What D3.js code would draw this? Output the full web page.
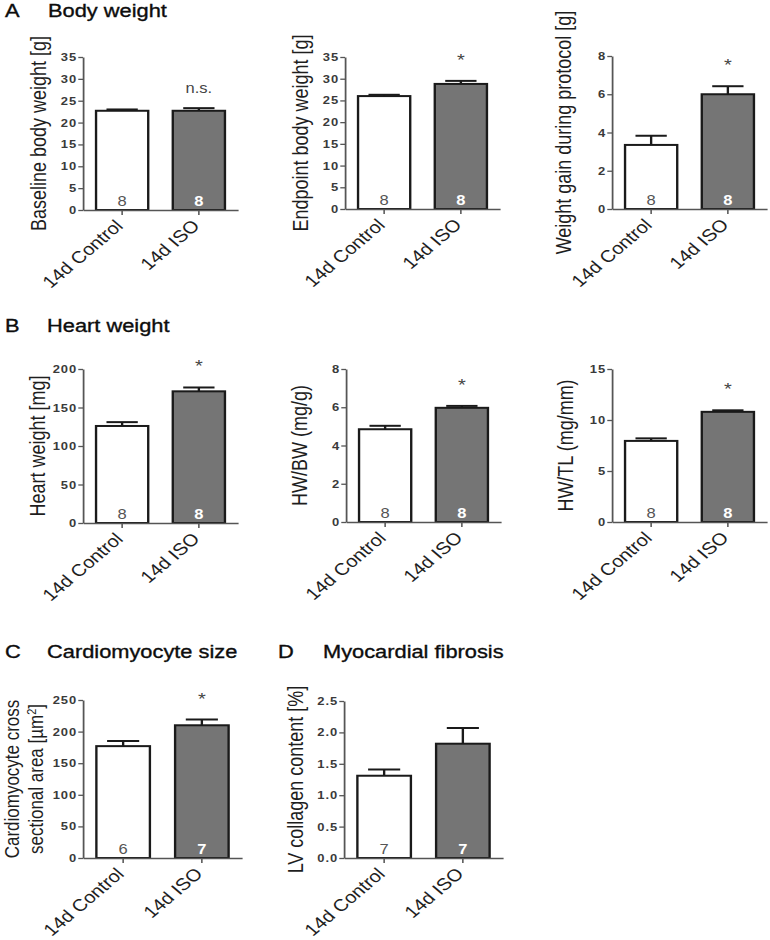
<!DOCTYPE html>
<html><head><meta charset="utf-8">
<script src="https://cdn.jsdelivr.net/npm/d3@7"></script>
<style>
body{margin:0;background:#fff}
text{font-family:"Liberation Sans",Arial,Helvetica,sans-serif}
</style>
</head><body>
<svg id="c" width="770" height="940"></svg>
<script>
// ---------- data ----------
const groups = ["14d Control", "14d ISO"];

const baselineMean = [22.7, 22.7], baselineSem = [0.3, 0.6], baselineN = [8, 8];
const endpointMean = [26.0, 28.8], endpointSem = [0.3, 0.7], endpointN = [8, 8];
const gainMean = [3.35, 6.0], gainSem = [0.48, 0.42], gainN = [8, 8];
const heartMean = [126, 171], heartSem = [5, 5], heartN = [8, 8];
const hwbwMean = [4.85, 5.97], hwbwSem = [0.18, 0.1], hwbwN = [8, 8];
const hwtlMean = [7.95, 10.8], hwtlSem = [0.25, 0.15], hwtlN = [8, 8];
const csaMean = [177, 210], csaSem = [8, 9], csaN = [6, 7];
const collagenMean = [1.31, 1.82], collagenSem = [0.1, 0.25], collagenN = [7, 7];

const baselineTicks = [0, 5, 10, 15, 20, 25, 30, 35];
const endpointTicks = [0, 5, 10, 15, 20, 25, 30, 35];
const gainTicks = [0, 2, 4, 6, 8];
const heartTicks = [0, 50, 100, 150, 200];
const hwbwTicks = [0, 2, 4, 6, 8];
const hwtlTicks = [0, 5, 10, 15];
const csaTicks = [0, 50, 100, 150, 200, 250];
const collagenTicks = [0, 0.5, 1.0, 1.5, 2.0, 2.5];

const significance = ["n.s.", "*", "*", "*", "*", "*", "*", ""];
const sectionLetters = ["A", "B", "C", "D"];
const sectionTitles = ["Body weight", "Heart weight", "Cardiomyocyte size", "Myocardial fibrosis"];

// ---------- drawing ----------
const SX = 1.18;               // horizontal stretch of the original figure
const svg = d3.select("#c");
const root = svg.append("g").attr("transform", `scale(${SX},1)`);
const X = v => v / SX;

function title(letter, text, lx, tx, y) {
  [[letter, lx], [text, tx]].forEach(([s, px]) => {
    root.append("text").attr("x", X(px)).attr("y", y).attr("font-size", 18.5)
      .attr("fill", "#0d0d0d").attr("stroke", "#0d0d0d").attr("stroke-width", 0.35).text(s);
  });
}
title(sectionLetters[0], sectionTitles[0], 5, 48, 17);
title(sectionLetters[1], sectionTitles[1], 5, 47, 332);
title(sectionLetters[2], sectionTitles[2], 5, 47, 658);
title(sectionLetters[3], sectionTitles[3], 278, 323, 658);

function panel(o) {
  const x = d3.scaleBand().domain(groups).range([X(o.axisX), X(o.xEnd)])
    .paddingInner(0.32).paddingOuter(0.17);
  const y = d3.scaleLinear().domain([0, d3.max(o.ticks)]).range([o.bottom, o.top]);
  const g = root.append("g");
  const bw = x.bandwidth();

  // bars
  g.selectAll("rect.bar").data(groups).join("rect").attr("class", "bar")
    .attr("x", d => x(d)).attr("width", bw)
    .attr("y", (d, i) => y(o.mean[i])).attr("height", (d, i) => y(0) - y(o.mean[i]))
    .attr("fill", (d, i) => i ? "#757575" : "#ffffff")
    .attr("stroke", "#1a1a1a").attr("stroke-width", 2);

  // error bars (upper only)
  g.selectAll("line.err").data(groups).join("line").attr("class", "err")
    .attr("x1", d => x(d) + bw / 2).attr("x2", d => x(d) + bw / 2)
    .attr("y1", (d, i) => y(o.mean[i])).attr("y2", (d, i) => y(o.mean[i] + o.sem[i]))
    .attr("stroke", "#1a1a1a").attr("stroke-width", 2);
  g.selectAll("line.cap").data(groups).join("line").attr("class", "cap")
    .attr("x1", d => x(d) + bw * 0.2).attr("x2", d => x(d) + bw * 0.8)
    .attr("y1", (d, i) => y(o.mean[i] + o.sem[i])).attr("y2", (d, i) => y(o.mean[i] + o.sem[i]))
    .attr("stroke", "#1a1a1a").attr("stroke-width", 2);

  // axes
  const ya = d3.axisLeft(y).tickValues(o.ticks).tickSize(4).tickSizeOuter(0).tickPadding(1)
    .tickFormat(o.fmt || d3.format("d"));
  const yg = g.append("g").attr("transform", `translate(${X(o.axisX)},0)`).call(ya);
  yg.select(".domain").attr("stroke", "#555").attr("stroke-width", 1.5);
  yg.selectAll(".tick line").attr("stroke", "#555").attr("stroke-width", 1.3);
  yg.selectAll(".tick text").attr("font-size", 11).attr("font-weight", "bold")
    .attr("fill", "#3a3a3a").attr("letter-spacing", 0.8)
    .style("font-family", '"Liberation Sans",Arial,sans-serif');

  const xa = d3.axisBottom(x).tickSize(5).tickSizeOuter(0).tickFormat("");
  const xg = g.append("g").attr("transform", `translate(0,${o.bottom})`).call(xa);
  xg.select(".domain").attr("stroke", "#555").attr("stroke-width", 1.5);
  xg.selectAll(".tick line").attr("stroke", "#555").attr("stroke-width", 1.3);

  // category labels
  g.selectAll("text.cat").data(groups).join("text").attr("class", "cat")
    .attr("transform", d => `translate(${x(d) + bw / 2 + X(2)},${o.bottom + 17}) rotate(-45)`)
    .attr("text-anchor", "end").attr("font-size", 17).attr("fill", "#1e1e1e").text(d => d);

  // n labels
  g.selectAll("text.n").data(groups).join("text").attr("class", "n")
    .attr("x", d => x(d) + bw / 2).attr("y", o.bottom - 4)
    .attr("text-anchor", "middle").attr("font-size", 14)
    .attr("font-weight", (d, i) => i ? "bold" : "normal")
    .attr("fill", (d, i) => i ? "#ffffff" : "#555").text((d, i) => o.n[i]);

  // significance
  if (o.sig) {
    g.append("text").attr("x", x(groups[1]) + bw / 2)
      .attr("y", y(o.mean[1] + o.sem[1]) - 15)
      .attr("text-anchor", "middle").attr("font-size", o.sig === "*" ? 17 : 14)
      .attr("fill", "#444").text(o.sig);
  }

  // y label
  const cy = (o.top + o.bottom) / 2;
  o.label.forEach((lab, k) => {
    const t = g.append("text")
      .attr("transform", `translate(${X(o.labelX[k])},${cy}) rotate(-90)`)
      .attr("dy", "0.36em").attr("text-anchor", "middle")
      .attr("font-size", o.labelSize || 18).attr("fill", "#1e1e1e");
    if (Array.isArray(lab)) {
      t.append("tspan").text(lab[0]);
      t.append("tspan").attr("baseline-shift", "super").attr("font-size", 11).text(lab[1]);
      t.append("tspan").text(lab[2]);
    } else t.text(lab);
  });
}

panel({axisX: 83, xEnd: 238, top: 57, bottom: 210, ticks: baselineTicks, mean: baselineMean, sem: baselineSem, n: baselineN, sig: significance[0], label: ["Baseline body weight [g]"], labelX: [38]});
panel({axisX: 345, xEnd: 500, top: 57, bottom: 209, ticks: endpointTicks, mean: endpointMean, sem: endpointSem, n: endpointN, sig: significance[1], label: ["Endpoint body weight [g]"], labelX: [300]});
panel({axisX: 612, xEnd: 767, top: 56, bottom: 209, ticks: gainTicks, mean: gainMean, sem: gainSem, n: gainN, sig: significance[2], label: ["Weight gain during protocol [g]"], labelX: [563]});

panel({axisX: 83, xEnd: 238, top: 369, bottom: 523, ticks: heartTicks, mean: heartMean, sem: heartSem, n: heartN, sig: significance[3], label: ["Heart weight [mg]"], labelX: [37]});
panel({axisX: 346, xEnd: 501, top: 369, bottom: 522, ticks: hwbwTicks, mean: hwbwMean, sem: hwbwSem, n: hwbwN, sig: significance[4], label: ["HW/BW (mg/g)"], labelX: [299]});
panel({axisX: 612, xEnd: 767, top: 369, bottom: 522, ticks: hwtlTicks, mean: hwtlMean, sem: hwtlSem, n: hwtlN, sig: significance[5], label: ["HW/TL (mg/mm)"], labelX: [565]});

panel({axisX: 83, xEnd: 242, top: 700, bottom: 858, ticks: csaTicks, mean: csaMean, sem: csaSem, n: csaN, sig: significance[6], label: ["Cardiomyocyte cross", ["sectional area [µm", "2", "]"]], labelX: [12, 36], labelSize: 17});
panel({axisX: 344, xEnd: 503, top: 701, bottom: 858, ticks: collagenTicks, fmt: d3.format(".1f"), mean: collagenMean, sem: collagenSem, n: collagenN, sig: significance[7], label: ["LV collagen content [%]"], labelX: [295]});
</script>
</body></html>
